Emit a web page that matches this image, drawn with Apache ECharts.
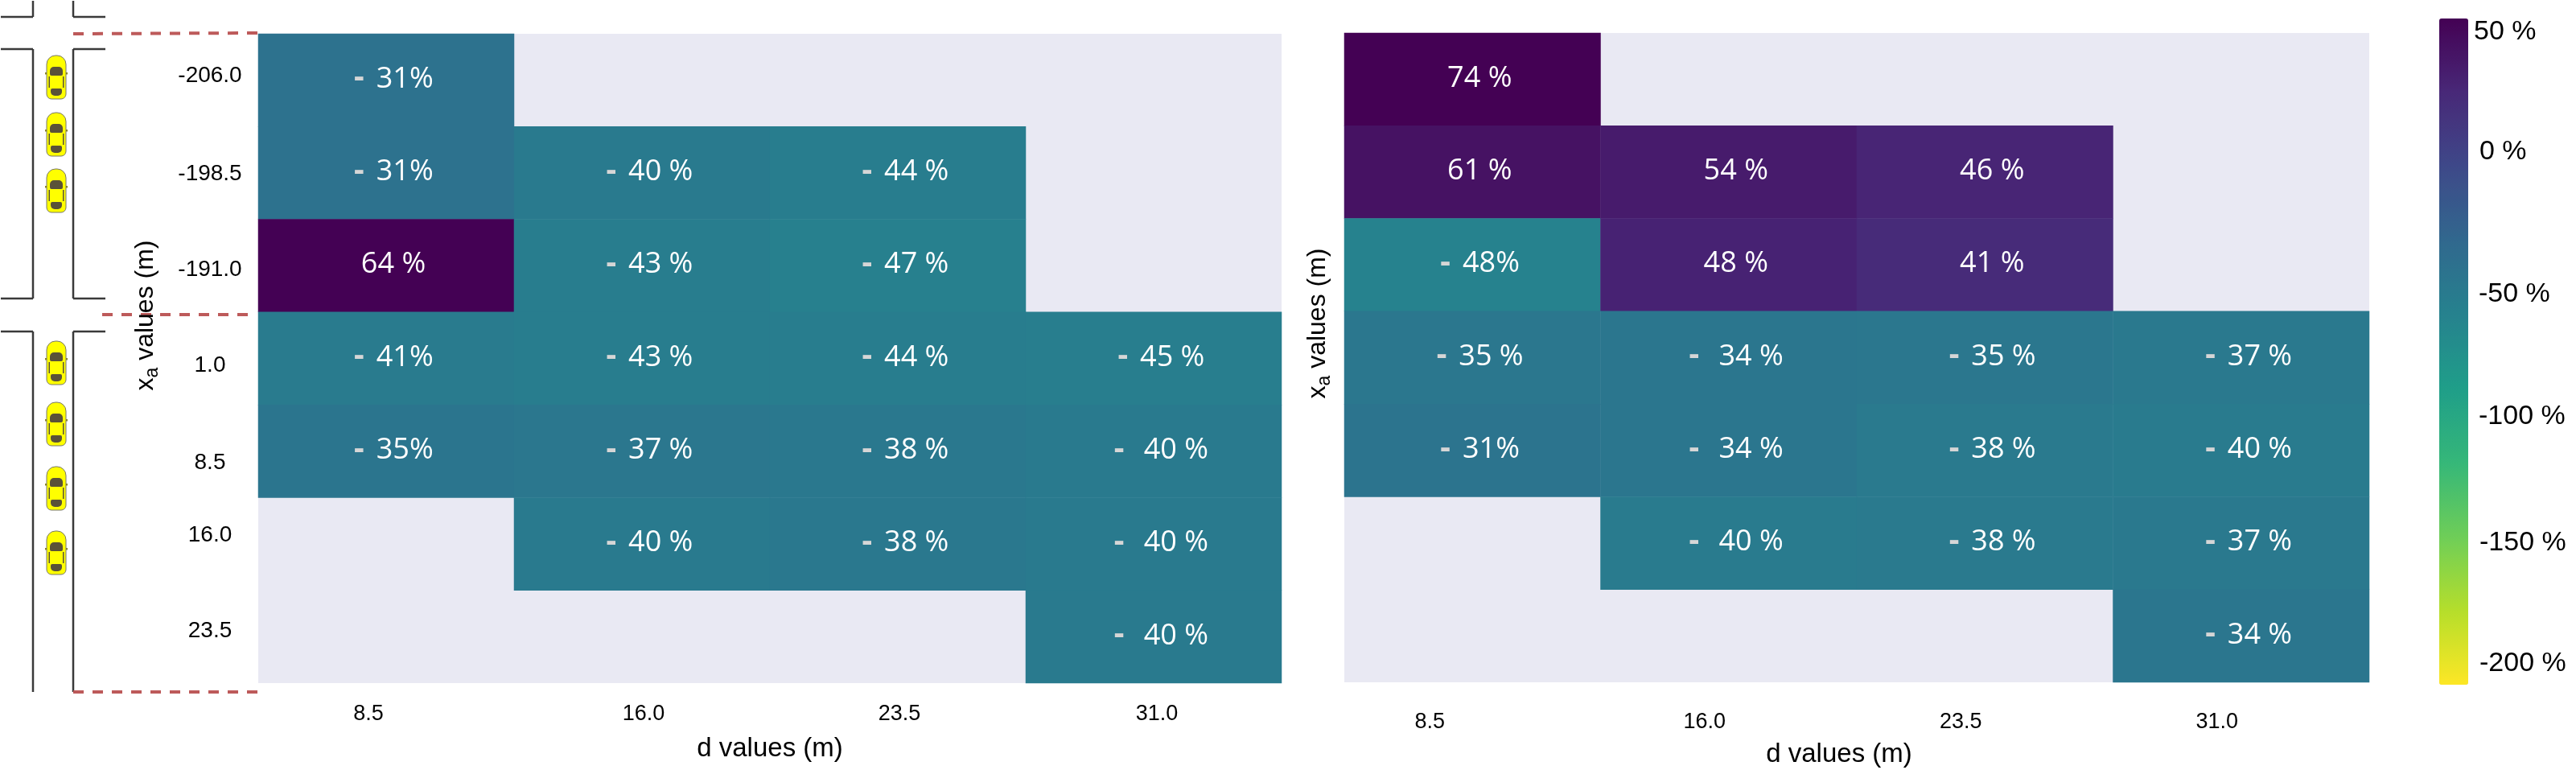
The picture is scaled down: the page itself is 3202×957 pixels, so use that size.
<!DOCTYPE html>
<html>
<head>
<meta charset="utf-8">
<title>Heatmaps</title>
<script src="https://cdn.jsdelivr.net/npm/echarts@6/dist/echarts.min.js"></script>
<style>
html, body { margin: 0; padding: 0; background: #fff; }
#main { width: 3202px; height: 957px; }
</style>
</head>
<body>
<div id="main"></div>
<script>
var dValues = ['8.5', '16.0', '23.5', '31.0'];
var xaValues = ['-206.0', '-198.5', '-191.0', '1.0', '8.5', '16.0', '23.5'];

var leftValues = [
  [-31, null, null, null],
  [-31, -40, -44, null],
  [64, -43, -47, null],
  [-41, -43, -44, -45],
  [-35, -37, -38, -40],
  [null, -40, -38, -40],
  [null, null, null, -40]
];
var rightValues = [
  [74, null, null, null],
  [61, 54, 46, null],
  [-48, 48, 41, null],
  [-35, -34, -35, -37],
  [-31, -34, -38, -40],
  [null, -40, -38, -37],
  [null, null, null, -34]
];
// the percent texts are spaced by hand in the original
var leftTexts = [
  ['- 31%', '', '', ''],
  ['- 31%', '- 40 %', '- 44 %', ''],
  ['64 %', '- 43 %', '- 47 %', ''],
  ['- 41%', '- 43 %', '- 44 %', '- 45 %'],
  ['- 35%', '- 37 %', '- 38 %', '-  40 %'],
  ['', '- 40 %', '- 38 %', '-  40 %'],
  ['', '', '', '-  40 %']
];
var rightTexts = [
  ['74 %', '', '', ''],
  ['61 %', '54 %', '46 %', ''],
  ['- 48%', '48 %', '41 %', ''],
  ['- 35 %', '-  34 %', '- 35 %', '- 37 %'],
  ['- 31%', '-  34 %', '- 38 %', '- 40 %'],
  ['', '-  40 %', '- 38 %', '- 37 %'],
  ['', '', '', '- 34 %']
];
var colorbarLabels = ['50 %', '0 %', '-50 %', '-100 %', '-150 %', '-200 %'];
var colorbarLabelX = [3075, 3082, 3081, 3081, 3082, 3082];
var colorbarLabelY = [40, 189, 366, 518, 675, 825];

// tick labels were placed by hand, these are their offsets from the cell centres
var leftTickShift = [-22, 2, 2, 4];
var rightTickShift = [-53, -30, -30, -30];
var rowLabelShift = [-5, 1, 5, 9, 14, -11, -7];

var carTops = [69, 140, 210, 424, 500, 580, 660];

var viridis = ['#fde725', '#b5de2b', '#6ece58', '#35b779', '#1f9e89', '#26828e', '#31688e', '#3e4989', '#482878', '#440154'];
var labelFont = '"Liberation Sans", Arial, sans-serif';

function cells(values, texts) {
  var out = [];
  values.forEach(function (row, r) {
    row.forEach(function (v, c) {
      if (v !== null) out.push({ value: [c, r, v], text: texts[r][c] });
    });
  });
  return out;
}

function cellLabel(p) {
  var s = p.data.text;
  var m = s.match(/^(-?)(\s*)(\d+)(\s*)%$/);
  return (m[1] ? '{m|-}' : '') + '{n|' + m[2] + m[3] + m[4] + '%}';
}

function heat(index, values, texts) {
  return {
    type: 'heatmap',
    xAxisIndex: index,
    yAxisIndex: index,
    data: cells(values, texts),
    progressive: 0,
    itemStyle: { borderWidth: 0 },
    emphasis: { disabled: true },
    label: {
      show: true,
      offset: [9, -1],
      formatter: cellLabel,
      rich: {
        m: { color: '#d6d6d6', fontFamily: 'DejaVu Sans', fontWeight: 'bold', fontSize: 34, padding: [0, 5, 0, 0] },
        n: { color: '#ffffff', fontFamily: 'Open Sans', fontSize: 36 }
      }
    }
  };
}

function line(x1, y1, x2, y2) {
  return { type: 'line', shape: { x1: x1, y1: y1, x2: x2, y2: y2 }, style: { stroke: '#3a3a3a', lineWidth: 2.5 } };
}
function redDash(x1, y1, x2, y2) {
  return { type: 'line', shape: { x1: x1, y1: y1, x2: x2, y2: y2 }, style: { stroke: '#bd5a5a', lineWidth: 4, lineDash: [13, 11] } };
}
function car(top) {
  return {
    type: 'group', x: 57, y: top,
    children: [
      { type: 'rect', shape: { x: -1, y: 21, width: 28, height: 2.5 }, style: { fill: '#8a8420' } },
      { type: 'rect', shape: { x: 1, y: 0, width: 24, height: 54, r: [11, 11, 6, 6] }, style: { fill: '#ffff00', stroke: '#77766a', lineWidth: 1 } },
      { type: 'rect', shape: { x: 5, y: 14, width: 16, height: 11, r: [5, 5, 2, 2] }, style: { fill: '#5a5238' } },
      { type: 'rect', shape: { x: 6, y: 41, width: 14, height: 9, r: [2, 2, 5, 5] }, style: { fill: '#5a5238' } },
      { type: 'rect', shape: { x: 3.5, y: 26, width: 1.5, height: 14 }, style: { fill: '#5a5238' } },
      { type: 'rect', shape: { x: 21, y: 26, width: 1.5, height: 14 }, style: { fill: '#5a5238' } }
    ]
  };
}
function yTitle(x, y) {
  return {
    type: 'text', x: x, y: y, rotation: Math.PI / 2,
    style: {
      text: '{t|x}{s|a}{t| values (m)}',
      align: 'center', verticalAlign: 'middle',
      rich: {
        t: { fontFamily: labelFont, fontSize: 32, lineHeight: 40, color: '#000' },
        s: { fontFamily: labelFont, fontSize: 23, lineHeight: 28, verticalAlign: 'bottom', color: '#000' }
      }
    }
  };
}

var graphics = [
  line(1, 21, 41, 21), line(41, 1, 41, 21), line(91, 1, 91, 21), line(91, 21, 131, 21),
  line(1, 61, 41, 61), line(41, 61, 41, 371), line(1, 371, 41, 371),
  line(91, 61, 131, 61), line(91, 61, 91, 371), line(91, 371, 131, 371),
  line(1, 412, 41, 412), line(41, 412, 41, 860),
  line(91, 412, 131, 412), line(91, 412, 91, 860),
  redDash(91, 42, 320, 41), redDash(127, 391, 312, 391), redDash(91, 860, 320, 860),
  yTitle(181, 392), yTitle(1638, 402)
];
carTops.forEach(function (t) { graphics.push(car(t)); });
colorbarLabels.forEach(function (t, i) {
  graphics.push({
    type: 'text', x: colorbarLabelX[i], y: colorbarLabelY[i],
    style: { text: t, fontFamily: labelFont, fontSize: 34, fill: '#000', align: 'left', verticalAlign: 'middle' }
  });
});

function xAxis(index, margin, nameGap, nameShift, shifts) {
  return {
    type: 'category', gridIndex: index,
    data: dValues.map(function (d, i) {
      var s = shifts[i];
      return { value: d, textStyle: { align: 'center', verticalAlign: 'top', padding: s < 0 ? [0, -2 * s, 0, 0] : [0, 0, 0, 2 * s] } };
    }),
    name: 'd values (m)', nameLocation: 'middle', nameGap: nameGap,
    nameTextStyle: { fontFamily: labelFont, fontSize: 33, color: '#000', padding: [0, nameShift * 2, 0, 0] },
    axisLine: { show: false }, axisTick: { show: false }, splitLine: { show: false },
    axisLabel: { margin: margin, fontFamily: labelFont, fontSize: 27, color: '#000' }
  };
}
var rowRich = {};
rowLabelShift.forEach(function (s, i) {
  rowRich['r' + i] = {
    fontFamily: labelFont, fontSize: 28, color: '#000',
    padding: s < 0 ? [0, 0, -2 * s, 0] : [2 * s, 0, 0, 0]
  };
});
function yAxis(index, showLabels) {
  return {
    type: 'category', gridIndex: index, inverse: true, data: xaValues,
    axisLine: { show: false }, axisTick: { show: false }, splitLine: { show: false },
    axisLabel: {
      show: showLabels, margin: 60, align: 'center', rich: rowRich,
      formatter: function (v, i) { return '{r' + i + '|' + v + '}'; }
    }
  };
}

var option = {
  animation: false,
  backgroundColor: '#ffffff',
  grid: [
    { left: 321, top: 42, width: 1272, height: 807, show: true, backgroundColor: '#e9e9f3', borderWidth: 0, outerBoundsMode: 'none' },
    { left: 1671, top: 41, width: 1274, height: 807, show: true, backgroundColor: '#e9e9f3', borderWidth: 0, outerBoundsMode: 'none' }
  ],
  xAxis: [xAxis(0, 25, 65, 0, leftTickShift), xAxis(1, 36, 73, 22, rightTickShift)],
  yAxis: [yAxis(0, true), yAxis(1, false)],
  visualMap: [
    { type: 'continuous', show: false, seriesIndex: 0, dimension: 2, min: -190, max: 64, inRange: { color: viridis } },
    {
      type: 'continuous', show: true, seriesIndex: 1, dimension: 2, min: -200, max: 74,
      inRange: { color: viridis }, calculable: false, realtime: false,
      left: 3032, top: 23, padding: 0, itemWidth: 36, itemHeight: 828, text: null, showLabel: false,
      textStyle: { fontSize: 0 }
    }
  ],
  series: [heat(0, leftValues, leftTexts), heat(1, rightValues, rightTexts)],
  graphic: graphics
};

var myChart = echarts.init(document.getElementById('main'));
myChart.setOption(option);
</script>
</body>
</html>
